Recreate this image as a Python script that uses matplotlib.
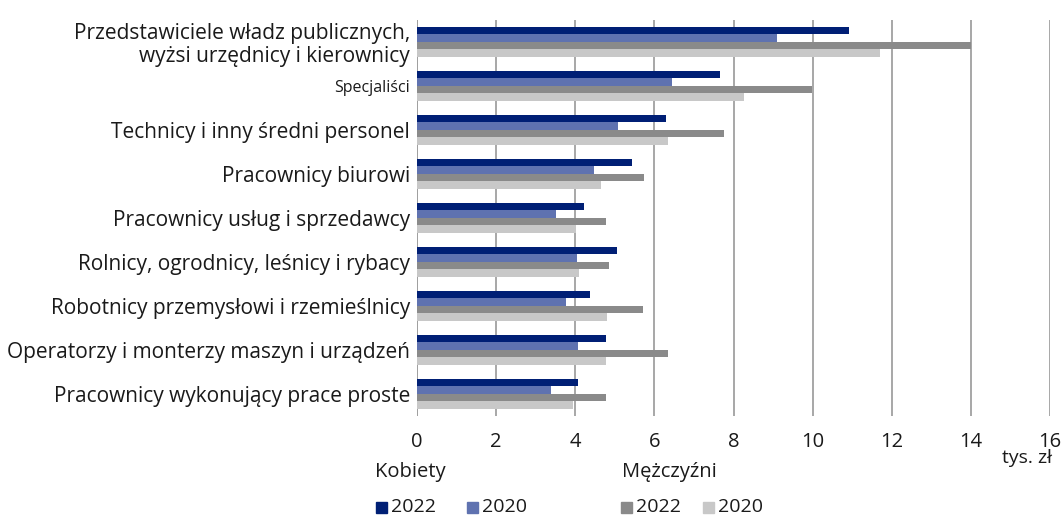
import matplotlib
matplotlib.use('Agg')
import matplotlib.pyplot as plt
import numpy as np

plt.rcParams['font.family'] = ['Open Sans', 'DejaVu Sans']

categories = ['Przedstawiciele władz publicznych,\nwyżsi urzędnicy i kierownicy',
              'Specjaliści',
              'Technicy i inny średni personel',
              'Pracownicy biurowi',
              'Pracownicy usług i sprzedawcy',
              'Rolnicy, ogrodnicy, leśnicy i rybacy',
              'Robotnicy przemysłowi i rzemieślnicy',
              'Operatorzy i monterzy maszyn i urządzeń',
              'Pracownicy wykonujący prace proste']

kobiety_2022 = [10.93, 7.65, 6.29, 5.43, 4.23, 5.06, 4.37, 4.78, 4.07]
kobiety_2020 = [9.09, 6.44, 5.09, 4.48, 3.50, 4.05, 3.77, 4.08, 3.39]
mezczyzni_2022 = [14.0, 9.98, 7.75, 5.74, 4.78, 4.84, 5.70, 6.34, 4.78]
mezczyzni_2020 = [11.7, 8.27, 6.34, 4.66, 4.02, 4.09, 4.81, 4.78, 3.94]

series = [kobiety_2022, kobiety_2020, mezczyzni_2022, mezczyzni_2020]
colors = ['#001f75', '#5f72b0', '#8a8a8a', '#c8c8c8']

fig = plt.figure(figsize=(10.62, 5.15), dpi=100)
ax = fig.add_axes([0.3927, 0.1928, 0.5960, 0.7689])

y = np.arange(len(categories))
h = 0.17
for i, (vals, c) in enumerate(zip(series, colors)):
    ax.barh(y + (i - 1.5) * h, vals, height=h, color=c, zorder=3)

ax.set_xlim(0, 16)
ax.set_ylim(len(categories) - 0.5, -0.5)
ax.set_xticks(range(0, 17, 2))
ax.grid(axis='x', color='#a0a0a0', linewidth=1.3, zorder=0)
for s in ax.spines.values():
    s.set_visible(False)
ax.axvline(0, color='#a0a0a0', linewidth=1.3, zorder=0)
ax.tick_params(axis='both', length=0, labelsize=15, colors='#1a1a1a')
ax.tick_params(axis='x', labelsize=14.5, pad=12)
ax.tick_params(axis='y', pad=5)
ax.set_yticks(y)
ax.set_yticklabels(categories, linespacing=1.1)
ax.get_yticklabels()[1].set_fontsize(11.5)

fig.text(1002 / 1062, 1 - 458 / 515, 'tys. zł', fontsize=14, va='center', ha='left', color='#1a1a1a')

# legend
fig.text(375 / 1062, 1 - 472 / 515, 'Kobiety', fontsize=14.5, va='center', color='#1a1a1a')
fig.text(622 / 1062, 1 - 472 / 515, 'Mężczyźni', fontsize=14.5, va='center', color='#1a1a1a')
leg = [(376, colors[0], '2022'), (467, colors[1], '2020'),
       (621, colors[2], '2022'), (703, colors[3], '2020')]
for x0, c, lab in leg:
    fig.patches.append(plt.Rectangle((x0 / 1062, 1 - 513 / 515), 11 / 1062, 11 / 515,
                                     transform=fig.transFigure, color=c, figure=fig))
    fig.text((x0 + 15) / 1062, 1 - 507 / 515, lab, fontsize=14, va='center', color='#1a1a1a')

fig.savefig('out.png', dpi=100)
